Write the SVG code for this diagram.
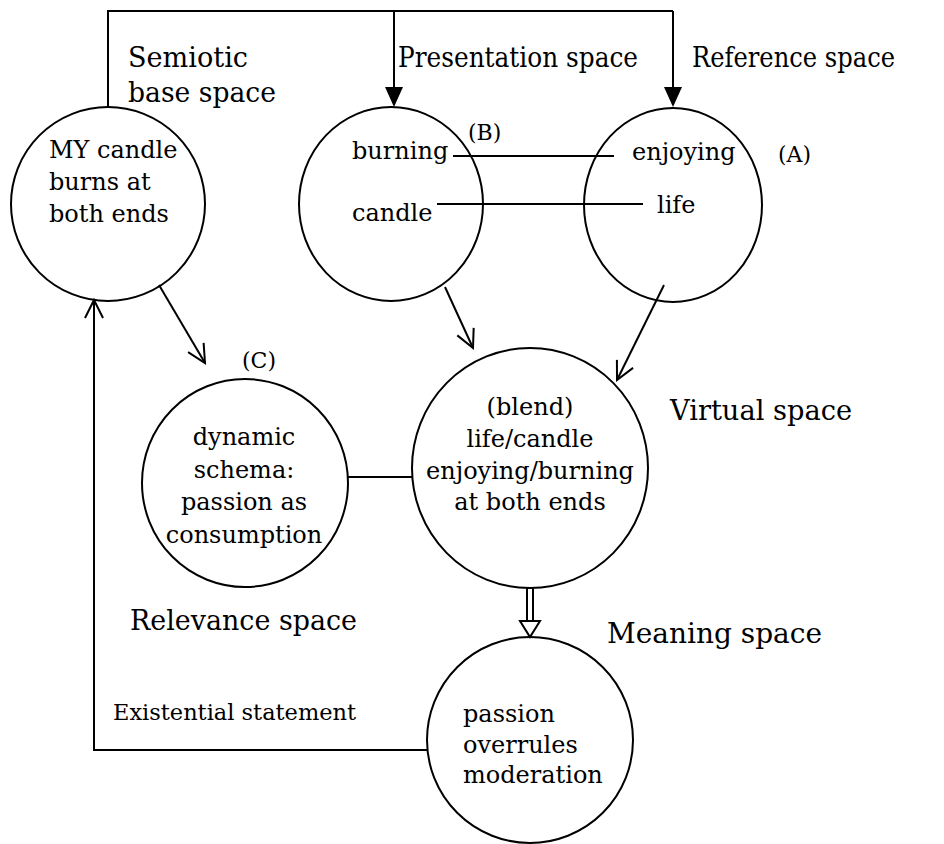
<svg xmlns="http://www.w3.org/2000/svg" width="944" height="844" viewBox="0 0 944 844">
<style>
  .c{fill:none;stroke:#000;stroke-width:2}
  .l{fill:none;stroke:#000;stroke-width:2}
  .t{font-family:"DejaVu Serif","Liberation Serif",serif;font-size:24px;fill:#000}
  .s{font-family:"DejaVu Serif","Liberation Serif",serif;font-size:22px;fill:#000}
  .big{font-family:"DejaVu Serif","Liberation Serif",serif;font-size:28px;fill:#000}
  .m{text-anchor:middle}
</style>
<defs>
  <marker id="open" markerWidth="24" markerHeight="24" refX="20" refY="12" orient="auto" markerUnits="userSpaceOnUse" viewBox="0 0 24 24">
    <path d="M2 3 L20 12 L2 21" fill="none" stroke="#000" stroke-width="2"/>
  </marker>
</defs>
<rect width="944" height="844" fill="#fff"/>
<g id="connectors">
  <path class="l" d="M108 107 V11 H673"/>
  <line class="l" x1="394" y1="11" x2="394" y2="88"/>
  <path d="M385 87 L403 87 L394 107 Z" fill="#000"/>
  <line class="l" x1="673" y1="11" x2="673" y2="88"/>
  <path d="M664 87 L682 87 L673 107 Z" fill="#000"/>
  <line class="l" x1="453" y1="156" x2="614" y2="156"/>
  <line class="l" x1="437" y1="204" x2="643" y2="204"/>
  <line class="l" x1="159" y1="285" x2="205" y2="363" marker-end="url(#open)"/>
  <line class="l" x1="445" y1="287" x2="473" y2="348" marker-end="url(#open)"/>
  <line class="l" x1="664" y1="285" x2="617" y2="380" marker-end="url(#open)"/>
  <line class="l" x1="348" y1="477" x2="412" y2="477"/>
  <path class="l" d="M527 588 V621 M533 588 V621 M520 621 H540 L530 637 Z" stroke-width="1.8" fill="#fff"/>
  <path class="l" d="M427 750 H94 V300" marker-end="url(#open)"/>
</g>
<g id="semiotic">
  <ellipse class="c" cx="108" cy="204" rx="97" ry="97"/>
  <text class="t" x="49" y="158">MY candle</text>
  <text class="t" x="49" y="190">burns at</text>
  <text class="t" x="49" y="222">both ends</text>
  <text class="big" x="128" y="67" textLength="120" lengthAdjust="spacingAndGlyphs">Semiotic</text>
  <text class="big" x="128" y="102" textLength="148" lengthAdjust="spacingAndGlyphs">base space</text>
</g>
<g id="presentation">
  <ellipse class="c" cx="391" cy="204" rx="92" ry="97"/>
  <text class="t" x="352" y="159">burning</text>
  <text class="t" x="352" y="221">candle</text>
  <text class="s" x="468" y="140">(B)</text>
  <text class="big" x="398" y="67" textLength="240" lengthAdjust="spacingAndGlyphs">Presentation space</text>
</g>
<g id="reference">
  <ellipse class="c" cx="673" cy="205" rx="89" ry="97"/>
  <text class="t" x="632" y="160">enjoying</text>
  <text class="t" x="657" y="213">life</text>
  <text class="s" x="778" y="162">(A)</text>
  <text class="big" x="692" y="67" textLength="203" lengthAdjust="spacingAndGlyphs">Reference space</text>
</g>
<g id="relevance">
  <ellipse class="c" cx="245" cy="483" rx="103" ry="104"/>
  <text class="s m" x="259" y="368">(C)</text>
  <text class="t m" x="244" y="445">dynamic</text>
  <text class="t m" x="244" y="478">schema:</text>
  <text class="t m" x="244" y="510">passion as</text>
  <text class="t m" x="244" y="543">consumption</text>
  <text class="big" x="130" y="630" textLength="227" lengthAdjust="spacingAndGlyphs">Relevance space</text>
</g>
<g id="virtual">
  <ellipse class="c" cx="530" cy="468" rx="118" ry="120"/>
  <text class="t m" x="530" y="415">(blend)</text>
  <text class="t m" x="530" y="447">life/candle</text>
  <text class="t m" x="530" y="479">enjoying/burning</text>
  <text class="t m" x="530" y="510">at both ends</text>
  <text class="big" x="670" y="420" textLength="182" lengthAdjust="spacingAndGlyphs">Virtual space</text>
</g>
<g id="meaning">
  <ellipse class="c" cx="530" cy="740" rx="103" ry="103"/>
  <text class="t" x="463" y="722">passion</text>
  <text class="t" x="463" y="753">overrules</text>
  <text class="t" x="463" y="783">moderation</text>
  <text class="big" x="607" y="643" textLength="215" lengthAdjust="spacingAndGlyphs">Meaning space</text>
</g>
<g id="existential">
  <text class="s" x="113" y="720" textLength="243" lengthAdjust="spacingAndGlyphs">Existential statement</text>
</g>
</svg>
